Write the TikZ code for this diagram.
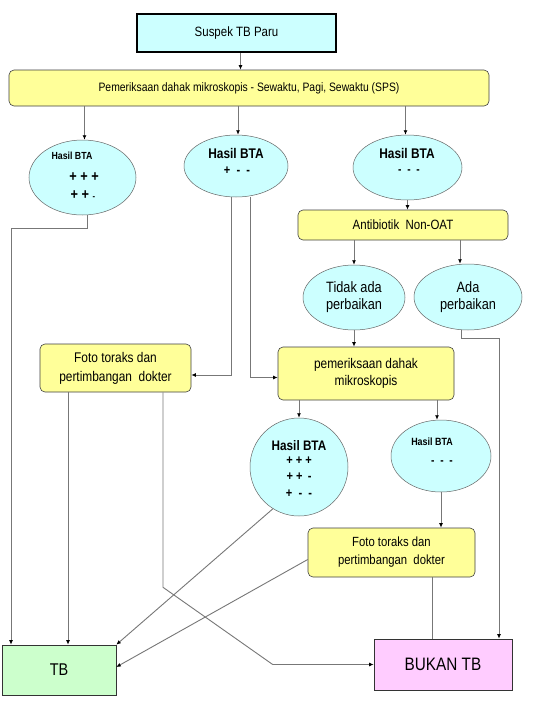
\documentclass[tikz,border=0pt]{standalone}
\usepackage{fontspec}
\setmainfont[FakeStretch=0.85]{Liberation Sans}
\usetikzlibrary{shapes.geometric,arrows.meta}
\definecolor{cyanfill}{HTML}{CCFFFF}
\definecolor{yelfill}{HTML}{FFFF99}
\definecolor{grnfill}{HTML}{CCFFCC}
\definecolor{pnkfill}{HTML}{FFCCFF}
\definecolor{lnc}{HTML}{777777}
\begin{document}
\begin{tikzpicture}[x=1pt,y=-1pt,
  box/.style={draw=black!75, fill=yelfill, rounded corners=5pt, line width=0.6pt, inner sep=0pt, align=center, font=\fontsize{14}{18}\selectfont},
  oval/.style={ellipse, draw=black!60, fill=cyanfill, line width=0.5pt, inner sep=0pt, align=center},
  lbl/.style={inner sep=0pt, align=center},
  conn/.style={draw=lnc, line width=0.9pt},
  arr/.style={conn, -{Latex[length=4.5pt,width=4pt,black]}},
  ]
\useasboundingbox[fill=white] (0,0) rectangle (550,721);

% nodes
\node[draw=black, line width=1.5pt, fill=cyanfill, minimum width=199pt, minimum height=38pt, inner sep=0pt,
      font=\fontsize{13.5}{15}\selectfont] (suspek) at (236.5,33) {Suspek TB Paru};
\node[box, minimum width=480pt, minimum height=36pt, font=\fontsize{12.2}{14}\selectfont] (sps) at (249,88)
  {Pemeriksaan dahak mikroskopis - Sewaktu, Pagi, Sewaktu (SPS)};

\node[oval, minimum width=107pt, minimum height=75pt] (e1) at (82.5,177.5) {};
\node[lbl, font=\fontsize{10.3}{12}\selectfont\bfseries] (e1a) at (72,156) {Hasil BTA};
\node[lbl, font=\fontsize{15}{17}\selectfont\bfseries] (e1b) at (84,177) {+ + +};
\node[lbl, font=\fontsize{15}{17}\selectfont\bfseries] (e1c) at (83,195) {+ + {\fontsize{9}{10}\selectfont -}};

\node[oval, minimum width=104pt, minimum height=62pt] (e2) at (236,166) {};
\node[lbl, font=\fontsize{14}{16}\selectfont\bfseries] (e2a) at (236,153) {Hasil BTA};
\node[lbl, font=\fontsize{13}{15}\selectfont\bfseries] (e2b) at (237,171) {+ \ - \ -};

\node[oval, minimum width=109pt, minimum height=65pt] (e3) at (407.5,167.5) {};
\node[lbl, font=\fontsize{14}{16}\selectfont\bfseries] (e3a) at (407,153) {Hasil BTA};
\node[lbl, font=\fontsize{12}{14}\selectfont\bfseries] (e3b) at (409,172) {- \ - \ -};

\node[box, minimum width=210pt, minimum height=30pt, font=\fontsize{13.5}{16}\selectfont] (anti) at (403,225) {Antibiotik\ \ Non-OAT};

\node[oval, minimum width=102pt, minimum height=65pt, font=\fontsize{15}{17}\selectfont] (tidak) at (354,297.5) {Tidak ada\\perbaikan};
\node[oval, minimum width=108pt, minimum height=66pt, font=\fontsize{15}{17}\selectfont] (ada) at (468,297) {Ada\\perbaikan};

\node[box, minimum width=176pt, minimum height=53pt, font=\fontsize{14}{17}\selectfont] (pem) at (366,373.5) {pemeriksaan dahak\\mikroskopis};
\node[box, minimum width=151pt, minimum height=48pt, font=\fontsize{14}{19}\selectfont] (foto1) at (115.5,368) {Foto toraks dan\\pertimbangan\ \ dokter};

\node[oval, minimum width=98pt, minimum height=98pt] (e4) at (299,467) {};
\node[lbl, font=\fontsize{13.8}{16}\selectfont\bfseries] (e4a) at (299,446) {Hasil BTA};
\node[lbl, font=\fontsize{13}{15}\selectfont\bfseries] (e4b) at (299,461) {+ + +};
\node[lbl, font=\fontsize{13}{15}\selectfont\bfseries] (e4c) at (299,477) {+ + \,-};
\node[lbl, font=\fontsize{13}{15}\selectfont\bfseries] (e4d) at (299,494) {+ \ - \ -};

\node[oval, minimum width=100pt, minimum height=72pt] (e5) at (441,456) {};
\node[lbl, font=\fontsize{10.5}{12}\selectfont\bfseries] (e5a) at (432,442) {Hasil BTA};
\node[lbl, font=\fontsize{12}{14}\selectfont\bfseries] (e5b) at (442,463) {- \ - \ -};

\node[box, minimum width=167pt, minimum height=49pt, font=\fontsize{13.3}{18}\selectfont] (foto2) at (391.5,552.5) {Foto toraks dan\\pertimbangan\ \ dokter};

\node[draw=black!80, fill=grnfill, line width=0.6pt, minimum width=114pt, minimum height=50pt, inner sep=0pt,
      font=\fontsize{17}{19}\selectfont] (tb) at (59,670) {\raisebox{-6pt}{TB}};
\node[draw=black!80, fill=pnkfill, line width=0.6pt, minimum width=138pt, minimum height=51pt, inner sep=0pt,
      font=\fontsize{18}{20}\selectfont] (bukan) at (443,664.5) {\raisebox{-4pt}{BUKAN TB}};

% connectors
\draw[arr] ([xshift=4pt]suspek.south) -- ([xshift=4pt]suspek.south |- sps.north);
\draw[arr] ([xshift=2pt]e1.north |- sps.south) -- ([xshift=2pt]e1.north);
\draw[arr] ([xshift=2pt]e2.north |- sps.south) -- ([xshift=2pt]e2.north);
\draw[arr] ([xshift=-2pt]e3.north |- sps.south) -- ([xshift=-2pt]e3.north);

\draw[arr] ([xshift=5pt]e1.south) -- ++(0,13) -| ([xshift=-48pt]tb.north);
\draw[arr] ([xshift=-5pt]e2.south) |- ([yshift=-7pt]foto1.east);
\draw[arr] ([xshift=14pt]e2.south) |- ([yshift=-4pt]pem.west);

\draw[arr] (e3.south) -- (e3.south |- anti.north);
\draw[arr] (tidak.north |- anti.south) -- (tidak.north);
\draw[arr] ([xshift=-8pt]ada.north |- anti.south) -- ([xshift=-8pt]ada.north);
\draw[arr] (tidak.south) -- (tidak.south |- pem.north);
\draw[arr] ([xshift=-7pt]ada.south) -- ++(0,8) -| ([xshift=56pt]bukan.north);

\draw[arr] ([xshift=-47.5pt]foto1.south) -- ([xshift=-47.5pt]foto1.south |- tb.north);
\draw[arr] ([xshift=47.5pt]foto1.south) -- ++(0,195) -- ([xshift=-101pt]bukan.west) -- (bukan.west);

\draw[arr] (e4.north |- pem.south) -- (e4.north);
\draw[arr] ([xshift=-4pt]e5.north |- pem.south) -- ([xshift=-4pt]e5.north);

\draw[arr] (e4.-122) -- (tb.north east);
\draw[arr] (e5.south) -- (e5.south |- foto2.north);
\draw[arr] ([yshift=-7pt]foto2.west) -- ([yshift=3pt]tb.east);
\draw[conn] ([xshift=40.5pt]foto2.south) -- ([xshift=40.5pt]foto2.south |- bukan.north);
\end{tikzpicture}
\end{document}
